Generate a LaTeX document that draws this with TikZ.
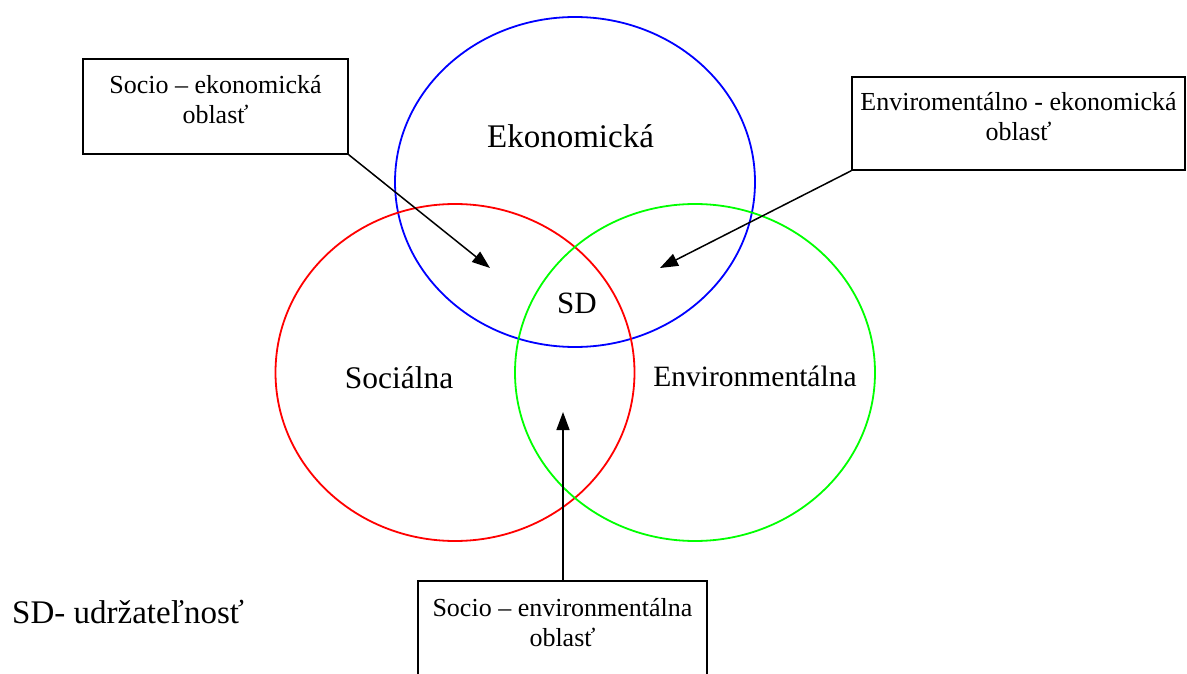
\documentclass[tikz,border=0pt]{standalone}
\usepackage{fontspec}
\setmainfont{Liberation Serif}
\usetikzlibrary{arrows.meta}
\begin{document}
\begin{tikzpicture}[x=1pt,y=-1pt,
  ring/.style={line width=1.8pt},
  box/.style={draw=black, line width=1.5pt, fill=white, inner sep=0pt},
  boxtext/.style={align=center, font=\fontsize{26}{30}\selectfont, inner sep=0pt},
  big/.style={inner sep=0pt},
  arr/.style={line width=1.5pt, -{Triangle[length=18pt,width=13pt]}}]
\useasboundingbox (0,0) rectangle (1187,674);
% circles
\draw[ring, blue] (575,182) ellipse [x radius=180pt, y radius=165pt];
\draw[ring, red] (455,372.5) ellipse [x radius=179.5pt, y radius=168.5pt];
\draw[ring, green] (695,372.5) ellipse [x radius=180pt, y radius=168.5pt];
% labels
\node[big, font=\fontsize{33}{38}\selectfont] (eko) at (570.5,136) {Ekonomická};
\node[big, font=\fontsize{31}{36}\selectfont] (sd) at (577,303) {SD};
\node[big, font=\fontsize{31.5}{36}\selectfont] (soc) at (399,378) {Sociálna};
\node[big, font=\fontsize{29.5}{34}\selectfont] (env) at (755,376) {Environmentálna};
\node[big, anchor=west, font=\fontsize{33}{38}\selectfont] (legend) at (12,612) {SD- udržateľnosť};
% boxes
\node[box, minimum width=265pt, minimum height=95pt] (b1) at (215.5,106.5) {};
\node[boxtext] (t1) at (215.5,100) {Socio – ekonomická\\oblasť};
\node[box, minimum width=333pt, minimum height=93pt] (b2) at (1018.5,123.5) {};
\node[boxtext] (t2) at (1018.5,117) {Enviromentálno - ekonomická\\oblasť};
\node[box, minimum width=289pt, minimum height=109pt] (b3) at (562.5,635.5) {};
\node[boxtext] (t3) at (562.5,623) {Socio – environmentálna\\oblasť};
% targets
\coordinate (p1) at (490,268);
\coordinate (p2) at (660,268);
\coordinate (p3) at (563,412);
\draw[arr] (b1.south east) -- (p1);
\draw[arr] (b2.south west) -- (p2);
\draw[arr] (b3.north -| p3) -- (p3);
\end{tikzpicture}
\end{document}
